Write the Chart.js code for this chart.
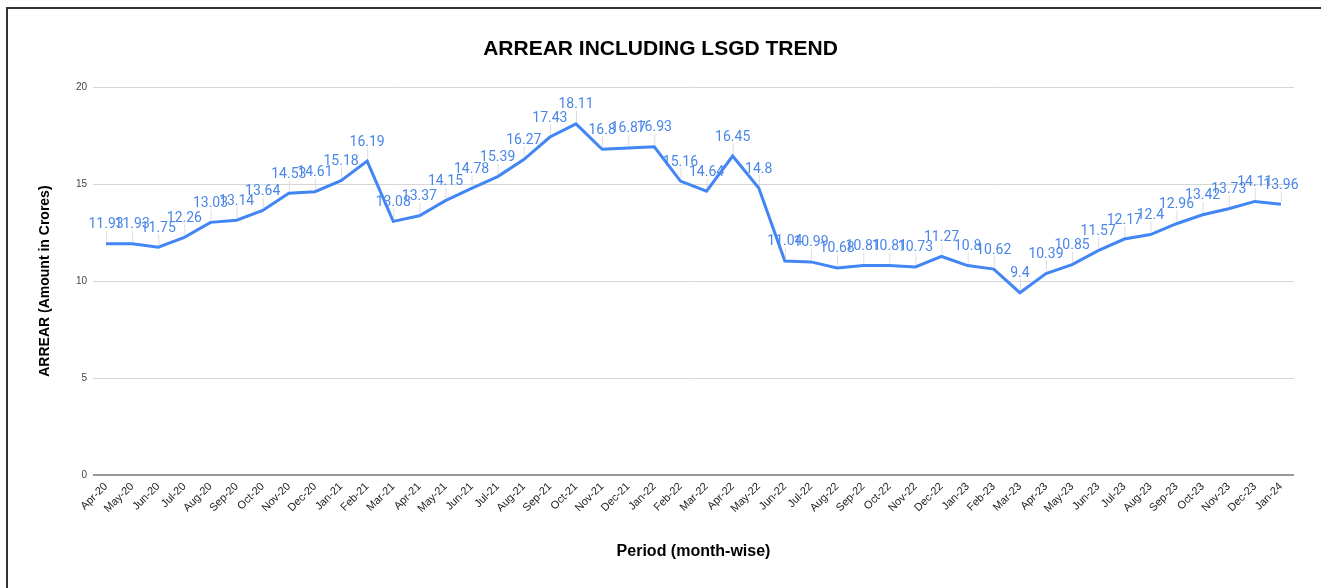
<!DOCTYPE html>
<html>
<head>
<meta charset="utf-8">
<script src="https://cdn.jsdelivr.net/npm/chart.js@4/dist/chart.umd.min.js"></script>
<style>
html,body{margin:0;padding:0;background:#fff;}
#wrap{position:relative;width:1321px;height:588px;}
canvas{display:block;}
</style>
</head>
<body>
<div id="wrap"><canvas id="c" width="1321" height="588"></canvas></div>
<script>
const months = ["Apr-20","May-20","Jun-20","Jul-20","Aug-20","Sep-20","Oct-20","Nov-20","Dec-20","Jan-21","Feb-21","Mar-21","Apr-21","May-21","Jun-21","Jul-21","Aug-21","Sep-21","Oct-21","Nov-21","Dec-21","Jan-22","Feb-22","Mar-22","Apr-22","May-22","Jun-22","Jul-22","Aug-22","Sep-22","Oct-22","Nov-22","Dec-22","Jan-23","Feb-23","Mar-23","Apr-23","May-23","Jun-23","Jul-23","Aug-23","Sep-23","Oct-23","Nov-23","Dec-23","Jan-24"];
const arrear = [11.93,11.93,11.75,12.26,13.03,13.14,13.64,14.53,14.61,15.18,16.19,13.08,13.37,14.15,14.78,15.39,16.27,17.43,18.11,16.8,16.87,16.93,15.16,14.64,16.45,14.8,11.04,10.99,10.68,10.81,10.81,10.73,11.27,10.8,10.62,9.4,10.39,10.85,11.57,12.17,12.4,12.96,13.42,13.73,14.11,13.96];
const yTicks = [0,5,10,15,20];

const labelPlugin = {
  id: 'pointLabels',
  afterDatasetsDraw(chart) {
    const ctx = chart.ctx;
    const meta = chart.getDatasetMeta(0);
    ctx.save();
    ctx.font = '14px Roboto, "Liberation Sans", Arial, sans-serif';
    ctx.textAlign = 'center';
    ctx.textBaseline = 'middle';
    meta.data.forEach((pt, i) => {
      const x = pt.x, y = pt.y;
      ctx.strokeStyle = 'rgba(200,200,200,0.6)';
      ctx.lineWidth = 1;
      ctx.beginPath();
      ctx.moveTo(x + 0.5, y - 2);
      ctx.lineTo(x + 0.5, y - 13);
      ctx.stroke();
      ctx.fillStyle = '#4a86e8';
      ctx.fillText(String(arrear[i]), x, y - 19);
    });
    ctx.restore();
  }
};

const borderPlugin = {
  id: 'outerBorder',
  afterDraw(chart) {
    const ctx = chart.ctx;
    ctx.save();
    ctx.strokeStyle = '#333';
    ctx.lineWidth = 2;
    ctx.beginPath();
    ctx.moveTo(7, 588);
    ctx.lineTo(7, 8);
    ctx.lineTo(1321, 8);
    ctx.stroke();
    ctx.restore();
  }
};

new Chart(document.getElementById('c'), {
  type: 'line',
  data: {
    labels: months,
    datasets: [{
      label: 'ARREAR',
      data: arrear,
      borderColor: '#4285f4',
      backgroundColor: '#4285f4',
      borderWidth: 3,
      pointRadius: 0,
      tension: 0,
      fill: false
    }]
  },
  options: {
    responsive: false,
    animation: false,
    layout: { padding: { left: 27, right: 27, top: 0, bottom: 27 } },
    plugins: {
      legend: { display: false },
      tooltip: { enabled: false },
      title: {
        display: true,
        text: 'ARREAR INCLUDING LSGD TREND',
        color: '#000',
        font: { family: '"Liberation Sans", Arial, sans-serif', size: 21, weight: 'bold', lineHeight: 1.2 },
        padding: { top: 37, bottom: 25 }
      }
    },
    scales: {
      x: {
        offset: true,
        grid: { display: false, drawTicks: false },
        border: { display: false },
        ticks: {
          color: '#222',
          font: { family: '"Liberation Sans", Arial, sans-serif', size: 11 },
          maxRotation: 45, minRotation: 45, autoSkip: false, padding: 5
        },
        title: {
          display: true,
          text: 'Period (month-wise)',
          color: '#000',
          font: { family: '"Liberation Sans", Arial, sans-serif', size: 16, weight: 'bold', lineHeight: 1.2 },
          padding: { top: 0, bottom: 0 }
        },
        afterFit(scale) { scale.height = 86; }
      },
      y: {
        min: 0, max: 20,
        afterBuildTicks(scale) { scale.ticks = yTicks.map(v => ({ value: v })); },
        grid: {
          drawTicks: false,
          color: ctx => ctx.tick && ctx.tick.value === 0 ? '#999' : '#d6d6d6',
          lineWidth: ctx => ctx.tick && ctx.tick.value === 0 ? 2 : 1
        },
        border: { display: false },
        ticks: {
          color: '#444',
          font: { family: '"Liberation Sans", Arial, sans-serif', size: 10 },
          padding: 6
        },
        title: {
          display: true,
          text: 'ARREAR (Amount in Crores)',
          color: '#000',
          font: { family: '"Liberation Sans", Arial, sans-serif', size: 14, weight: 'bold', lineHeight: 1.2 },
          padding: { top: 10, bottom: 0 }
        },
        afterFit(scale) { scale.width = 66; }
      }
    }
  },
  plugins: [labelPlugin, borderPlugin]
});
</script>
</body>
</html>
